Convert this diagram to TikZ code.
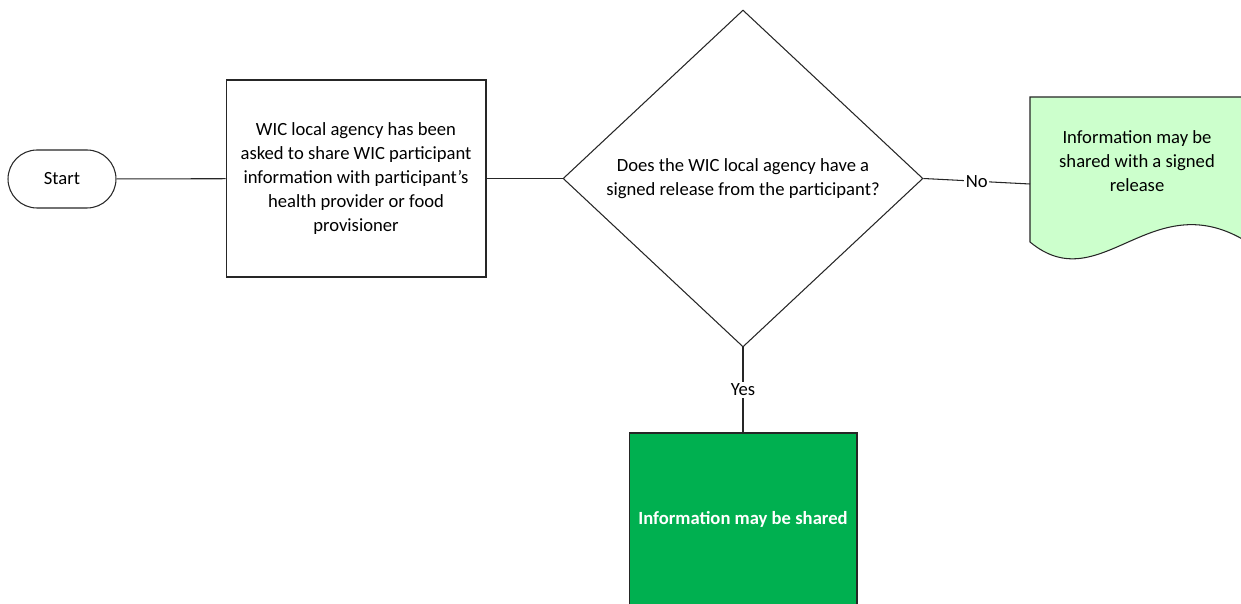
\documentclass[tikz,border=0pt]{standalone}
\usepackage{fontspec}
\setmainfont{Carlito}
\usepackage{xcolor}
\usepackage{tikz}
\usetikzlibrary{calc}
\usetikzlibrary{shapes.geometric}
\definecolor{mygreen}{HTML}{00B050}
\definecolor{mylight}{HTML}{CCFFCC}
\definecolor{myline}{HTML}{262626}
\tikzset{
	base/.style={draw=myline,line width=0.6pt,align=center,inner sep=2pt,font=\fontsize{10.6}{13.7}\selectfont},
	startnode/.style={base,rectangle,rounded corners=0.58cm,minimum width=2.16cm,minimum height=1.16cm},
	procbox/.style={base,rectangle,minimum width=5.2cm,minimum height=3.94cm},
	decision/.style={base,diamond,inner sep=0pt,minimum width=7.2cm,minimum height=6.74cm},
	endbox/.style={base,rectangle,fill=mygreen,text=white,font=\fontsize{10.6}{13.7}\selectfont\bfseries,minimum width=4.56cm,minimum height=3.44cm},
	doctext/.style={align=center,font=\fontsize{10.6}{13.7}\selectfont},
	link/.style={draw=myline,line width=0.6pt},
	answer/.style={fill=white,inner sep=1pt,font=\fontsize{10.6}{13.7}\selectfont}
}
\begin{document}
\begin{tikzpicture}[x=0.02cm,y=-0.02cm]
		\useasboundingbox (0,0) rectangle (1241,604);
		\clip (0,0) rectangle (1241,604);

		\node[startnode] (start) at (62,179) {Start};
		\node[procbox] (ask) at (356,178.5) {WIC local agency has been\\asked to share WIC participant\\information with participant’s\\health provider or food\\provisioner};
		\node[decision] (decide) at (743,178.5) {Does the WIC local agency have a\\signed release from the participant?};
		\node[endbox] (shared) at (743,519) {Information may be shared};

		% document shape, cut off at the right edge
		\draw[fill=mylight,draw=myline,line width=0.6pt] (1030,97) -- (1244,97) -- (1244,240)
			.. controls (1150,185) and (1100,300) .. (1030,242) -- cycle;
		\node[doctext] (release) at (1137,161) {Information may be\\shared with a signed\\release};
		\coordinate (releaseW) at (1030,184);

		\draw[link] (start) -- (ask);
		\draw[link] (ask) -- (decide);
		\draw[link] (decide.east) -- node[answer] {No} (releaseW);
		\draw[link] (decide.south) -- node[answer] {Yes} (shared.north);
	\end{tikzpicture}
\end{document}
